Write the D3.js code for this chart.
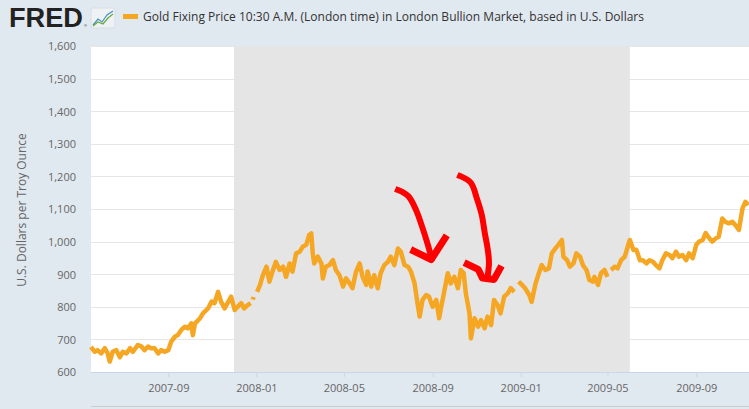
<!DOCTYPE html>
<html><head><meta charset="utf-8">
<script src="https://cdn.jsdelivr.net/npm/d3@7"></script>
<style>
html,body{margin:0;padding:0;background:#e1e9f0;}
svg{display:block;}
</style></head>
<body>
<svg id="chart" width="749" height="409"></svg>
<script>
const dates = ["2007-05-17","2007-05-22","2007-05-26","2007-05-31","2007-06-05","2007-06-09","2007-06-12","2007-06-16","2007-06-21","2007-06-26","2007-06-30","2007-07-05","2007-07-10","2007-07-14","2007-07-21","2007-07-26","2007-07-30","2007-08-04","2007-08-08","2007-08-13","2007-08-18","2007-08-22","2007-08-27","2007-09-01","2007-09-05","2007-09-10","2007-09-14","2007-09-19","2007-09-24","2007-09-28","2007-10-03","2007-10-05","2007-10-08","2007-10-15","2007-10-19","2007-10-26","2007-10-31","2007-11-04","2007-11-09","2007-11-13","2007-11-18","2007-11-22","2007-11-27","2007-12-02","2007-12-06","2007-12-11","2007-12-15","2007-12-20","2007-12-24","2007-12-25","2007-12-27","2007-12-28","2007-12-30","2008-01-02","2008-01-06","2008-01-10","2008-01-15","2008-01-19","2008-01-24","2008-01-28","2008-02-02","2008-02-07","2008-02-11","2008-02-16","2008-02-20","2008-02-25","2008-03-01","2008-03-05","2008-03-10","2008-03-14","2008-03-17","2008-03-19","2008-03-21","2008-03-26","2008-03-31","2008-04-02","2008-04-06","2008-04-11","2008-04-16","2008-04-20","2008-04-25","2008-04-30","2008-05-04","2008-05-09","2008-05-13","2008-05-18","2008-05-23","2008-05-27","2008-06-01","2008-06-03","2008-06-08","2008-06-12","2008-06-17","2008-06-21","2008-06-26","2008-07-01","2008-07-05","2008-07-10","2008-07-15","2008-07-19","2008-07-24","2008-07-29","2008-08-02","2008-08-07","2008-08-11","2008-08-14","2008-08-18","2008-08-23","2008-08-27","2008-09-01","2008-09-06","2008-09-10","2008-09-12","2008-09-17","2008-09-22","2008-09-26","2008-10-01","2008-10-06","2008-10-10","2008-10-14","2008-10-17","2008-10-22","2008-10-24","2008-10-29","2008-11-03","2008-11-07","2008-11-12","2008-11-16","2008-11-21","2008-11-25","2008-11-30","2008-12-04","2008-12-09","2008-12-14","2008-12-18","2008-12-23","2008-12-25","2008-12-29","2009-01-03","2009-01-07","2009-01-13","2009-01-16","2009-01-21","2009-01-26","2009-01-30","2009-02-04","2009-02-09","2009-02-13","2009-02-18","2009-02-22","2009-02-27","2009-03-01","2009-03-06","2009-03-10","2009-03-15","2009-03-19","2009-03-24","2009-03-28","2009-04-02","2009-04-06","2009-04-11","2009-04-13","2009-04-18","2009-04-22","2009-04-27","2009-05-01","2009-05-03","2009-05-06","2009-05-11","2009-05-15","2009-05-20","2009-05-25","2009-05-29","2009-06-01","2009-06-06","2009-06-10","2009-06-15","2009-06-19","2009-06-24","2009-06-28","2009-07-03","2009-07-07","2009-07-12","2009-07-16","2009-07-21","2009-07-26","2009-07-30","2009-08-04","2009-08-08","2009-08-13","2009-08-18","2009-08-22","2009-08-27","2009-09-01","2009-09-05","2009-09-10","2009-09-14","2009-09-19","2009-09-23","2009-09-28","2009-10-02","2009-10-07","2009-10-11","2009-10-16","2009-10-21","2009-10-25","2009-10-30","2009-11-04","2009-11-08","2009-11-12"];
const prices = [677,662,667,657,673,658,632,662,667,645,662,657,673,662,683,678,667,678,673,673,657,667,662,667,693,708,713,729,739,734,749,713,749,765,780,795,816,811,846,816,795,811,831,790,800,811,795,805,811,null,822,830,null,846,867,897,923,877,913,938,913,923,892,933,908,964,969,984,990,1020,1025,964,933,954,933,887,923,928,943,913,897,862,887,872,857,908,933,892,867,908,862,897,857,903,928,938,954,928,979,969,928,923,908,872,811,770,821,836,831,800,821,765,790,846,903,872,892,857,913,903,841,780,703,765,739,759,734,770,744,821,805,780,831,841,857,846,null,877,867,857,835,815,867,903,928,913,918,964,979,990,1005,954,943,923,933,964,954,928,913,882,877,892,867,903,913,892,null,913,923,918,943,954,984,1005,974,975,943,943,933,943,938,928,918,943,964,959,949,969,954,959,943,964,949,990,1000,1005,1026,1010,1000,1010,1015,1071,1061,1056,1061,1051,1036,1102,1122,1112];

const yTicks = [600,700,800,900,1000,1100,1200,1300,1400,1500,1600];
const xTickLabels = ["2007-09","2008-01","2008-05","2008-09","2009-01","2009-05","2009-09"];
const xDomain = ["2007-05-17","2009-11-13"];
const recession = ["2007-12-01","2009-06-01"];
const titleText = "Gold Fixing Price 10:30 A.M. (London time) in London Bullion Market, based in U.S. Dollars";
const yTitle = "U.S. Dollars per Troy Ounce";

// hand-drawn red annotation arrows, in data units [date, value]
const arrow1Shaft = [["2008-07-15",1158],["2008-07-29",1140],["2008-08-09",1097],["2008-08-18",1042],["2008-08-25",993],["2008-08-30",953]];
const arrow1Head = [["2008-08-06",971],["2008-08-30",945],["2008-09-18",1010]];
const arrow2Shaft = [["2008-10-09",1201],["2008-10-24",1180],["2008-11-01",1134],["2008-11-08",1082],["2008-11-12",1029],["2008-11-16",980],["2008-11-18",937],["2008-11-16",891]];
const arrow2Head = [["2008-10-19",931],["2008-11-03",915],["2008-11-09",888],["2008-11-25",884],["2008-12-03",916]];

const parse = d3.timeParse("%Y-%m-%d");
const parseM = d3.timeParse("%Y-%m");
const data = dates.map((d,i)=>({date:parse(d), value:prices[i]}));

const svg = d3.select("#chart");
const W = 749, H = 409;
const m = {left:91, right:0, top:46, bottom:37};
const x = d3.scaleTime().domain(xDomain.map(parse)).range([m.left, W - m.right]);
const y = d3.scaleLinear().domain([600,1600]).range([H - m.bottom, m.top]);

// plot background
svg.append("rect").attr("x", m.left).attr("y", m.top)
  .attr("width", W - m.right - m.left).attr("height", y(600) - m.top).attr("fill", "#ffffff");

// gridlines
svg.append("g").selectAll("line").data(yTicks).join("line")
  .attr("x1", m.left).attr("x2", W - m.right)
  .attr("y1", d => Math.round(y(d)) + 0.5).attr("y2", d => Math.round(y(d)) + 0.5)
  .attr("stroke", "#e6e6e6").attr("stroke-width", 1);

// recession shading
svg.append("rect")
  .attr("x", x(parse(recession[0]))).attr("y", m.top)
  .attr("width", x(parse(recession[1])) - x(parse(recession[0])))
  .attr("height", y(600) - m.top)
  .attr("fill", "#e5e5e5");

// y axis labels
const yAxis = d3.axisLeft(y).tickValues(yTicks).tickSize(0).tickPadding(0)
  .tickFormat(d3.format(","));
const gy = svg.append("g").attr("transform", `translate(${m.left - 15},0)`).call(yAxis);
gy.select(".domain").remove();
gy.selectAll("text").attr("font-family", "'Open Sans', sans-serif").attr("font-size", 11)
  .attr("fill", "#666666").attr("dy", "0.35em");

// x axis
const xAxis = d3.axisBottom(x).tickValues(xTickLabels.map(parseM)).tickSize(5).tickPadding(7)
  .tickFormat(d3.timeFormat("%Y-%m"));
const gx = svg.append("g").attr("transform", `translate(0,${y(600)})`).call(xAxis);
gx.select(".domain").attr("stroke", "#ccd6eb").attr("d", `M${m.left},0.5H${W}`);
gx.selectAll(".tick line").attr("stroke", "#ccd6eb");
gx.selectAll("text").attr("font-family", "'Open Sans', sans-serif").attr("font-size", 11)
  .attr("fill", "#666666");

// bottom navigator line
svg.append("line").attr("x1", m.left).attr("x2", W).attr("y1", 406.5).attr("y2", 406.5)
  .attr("stroke", "#cccccc").attr("stroke-width", 1);

// series line
const line = d3.line().defined(d => d.value !== null)
  .x(d => x(d.date)).y(d => y(d.value));
svg.append("path").datum(data).attr("d", line)
  .attr("fill", "none").attr("stroke", "#f5a623").attr("stroke-width", 4.5)
  .attr("stroke-linejoin", "round");

// red annotations
const aLine = d3.line().x(d => x(parse(d[0]))).y(d => y(d[1])).curve(d3.curveCatmullRom);
const aLineStraight = d3.line().x(d => x(parse(d[0]))).y(d => y(d[1]));
[arrow1Shaft, arrow2Shaft].forEach(p => svg.append("path").attr("d", aLine(p))
  .attr("fill", "none").attr("stroke", "#ff0000").attr("stroke-width", 6)
  .attr("stroke-linecap", "square").attr("stroke-linejoin", "round"));
[arrow1Head, arrow2Head].forEach(p => svg.append("path").attr("d", aLineStraight(p))
  .attr("fill", "none").attr("stroke", "#ff0000").attr("stroke-width", 7)
  .attr("stroke-linecap", "square").attr("stroke-linejoin", "round"));

// y axis title
svg.append("text").attr("transform", "translate(26,210) rotate(-90)")
  .attr("text-anchor", "middle").attr("font-family", "'Open Sans', sans-serif")
  .attr("font-size", 12).attr("fill", "#666666").text(yTitle);

// header: FRED logo
svg.append("text").attr("x", 9).attr("y", 27).attr("font-family", "'Liberation Sans', Arial, sans-serif")
  .attr("font-weight", "bold").attr("font-size", 27).attr("fill", "#222222")
  .attr("textLength", 74).attr("lengthAdjust", "spacingAndGlyphs").text("FRED");
svg.append("text").attr("x", 84).attr("y", 27).attr("font-family", "sans-serif")
  .attr("font-size", 4).attr("fill", "#222").text("®");
// small chart icon
const icon = svg.append("g").attr("transform", "translate(91,8)");
icon.append("rect").attr("width", 24).attr("height", 20).attr("rx", 2).attr("fill", "#eef2f5").attr("stroke", "#d8dde2");
icon.append("polyline").attr("points", "2,17 7,11 11,14 16,7 22,3").attr("fill", "none").attr("stroke", "#4a90c2").attr("stroke-width", 1.2);
icon.append("polyline").attr("points", "2,18 7,14 12,16 17,10 22,6").attr("fill", "none").attr("stroke", "#6aaa3a").attr("stroke-width", 1.2);

// legend dash + title
svg.append("rect").attr("x", 123).attr("y", 14).attr("width", 15).attr("height", 5).attr("fill", "#f5a623");
svg.append("text").attr("x", 143).attr("y", 21).attr("font-family", "'Open Sans', sans-serif")
  .attr("font-size", 12.5).attr("fill", "#333333")
  .attr("textLength", 501).attr("lengthAdjust", "spacingAndGlyphs").text(titleText);
</script>
</body></html>
